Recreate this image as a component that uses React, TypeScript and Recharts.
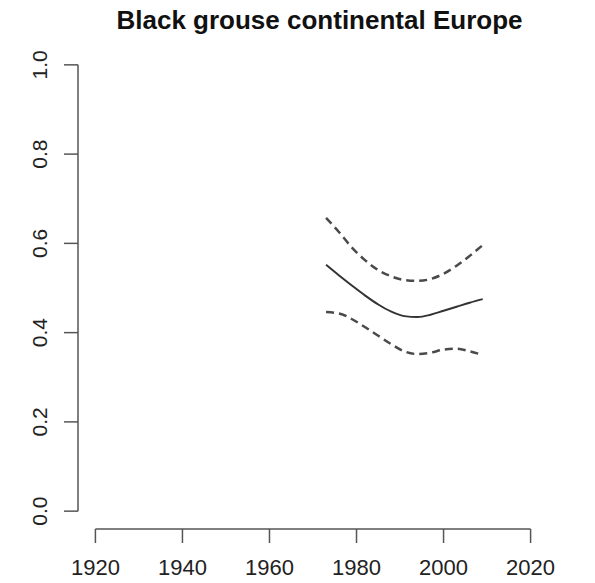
import {
  LineChart,
  Line,
  XAxis,
  YAxis,
  ReferenceLine,
} from "recharts";

// years of the fitted trend and its confidence band
const years = [1973, 1976, 1979, 1982, 1985, 1988, 1991, 1994, 1997, 2000, 2003, 2006, 2009];
const estimate = [0.552, 0.528, 0.505, 0.483, 0.463, 0.447, 0.437, 0.435, 0.44, 0.449, 0.458, 0.467, 0.475];
const upper = [0.657, 0.625, 0.59, 0.562, 0.54, 0.526, 0.518, 0.516, 0.52, 0.532, 0.55, 0.572, 0.596];
const lower = [0.446, 0.443, 0.43, 0.412, 0.393, 0.374, 0.358, 0.352, 0.355, 0.362, 0.364, 0.358, 0.35];

const xTicks = [1920, 1940, 1960, 1980, 2000, 2020];
const yTicks = [0, 0.2, 0.4, 0.6, 0.8, 1.0];

const title = "Black grouse continental Europe";

const data = years.map((year, i) => ({
  year,
  estimate: estimate[i],
  upper: upper[i],
  lower: lower[i],
}));

const FONT = "'Liberation Sans', Arial, Helvetica, sans-serif";
const AXIS = "#555";

function YTick({ x, y, payload }: any) {
  return (
    <text
      x={x}
      y={y}
      transform={`rotate(-90 ${x} ${y})`}
      textAnchor="middle"
      fontSize={21}
      fontFamily={FONT}
      fill="#222"
    >
      {Number(payload.value).toFixed(1)}
    </text>
  );
}

export default function App() {
  return (
    <div
      style={{
        position: "absolute",
        left: 0,
        top: 0,
        width: 595,
        height: 583,
        background: "#fff",
        fontFamily: FONT,
      }}
    >
      <div
        style={{
          position: "absolute",
          top: 5,
          left: 0,
          width: 639,
          textAlign: "center",
          fontSize: 26,
          fontWeight: "bold",
          color: "#111",
          lineHeight: "30px",
        }}
      >
        {title}
      </div>
      <LineChart
        width={595}
        height={583}
        data={data}
        margin={{ top: 47, right: 47, left: 0, bottom: 0 }}
      >
        <XAxis
          dataKey="year"
          type="number"
          domain={[1916, 2024]}
          ticks={xTicks}
          allowDataOverflow
          height={54}
          axisLine={false}
          tickLine={{ stroke: AXIS, strokeWidth: 1.5 }}
          tickSize={14}
          tickMargin={16}
          tick={{ fontSize: 22, fill: "#222", fontFamily: FONT }}
        />
        <YAxis
          type="number"
          domain={[-0.04, 1.04]}
          ticks={yTicks}
          allowDataOverflow
          width={78}
          axisLine={false}
          tickLine={{ stroke: AXIS, strokeWidth: 1.5 }}
          tickSize={14}
          tickMargin={17}
          tick={<YTick />}
        />
        {/* R-style axis lines spanning only the tick range */}
        <ReferenceLine
          segment={[
            { x: 1920, y: -0.04 },
            { x: 2020, y: -0.04 },
          ]}
          stroke={AXIS}
          strokeWidth={1.5}
          ifOverflow="visible"
        />
        <ReferenceLine
          segment={[
            { x: 1916, y: 0 },
            { x: 1916, y: 1 },
          ]}
          stroke={AXIS}
          strokeWidth={1.5}
          ifOverflow="visible"
        />
        <Line
          type="monotone"
          dataKey="upper"
          stroke="#4a4a4a"
          strokeWidth={2.5}
          strokeDasharray="8 5"
          dot={false}
          isAnimationActive={false}
        />
        <Line
          type="monotone"
          dataKey="estimate"
          stroke="#333"
          strokeWidth={2}
          dot={false}
          isAnimationActive={false}
        />
        <Line
          type="monotone"
          dataKey="lower"
          stroke="#4a4a4a"
          strokeWidth={2.5}
          strokeDasharray="8 5"
          dot={false}
          isAnimationActive={false}
        />
      </LineChart>
    </div>
  );
}
